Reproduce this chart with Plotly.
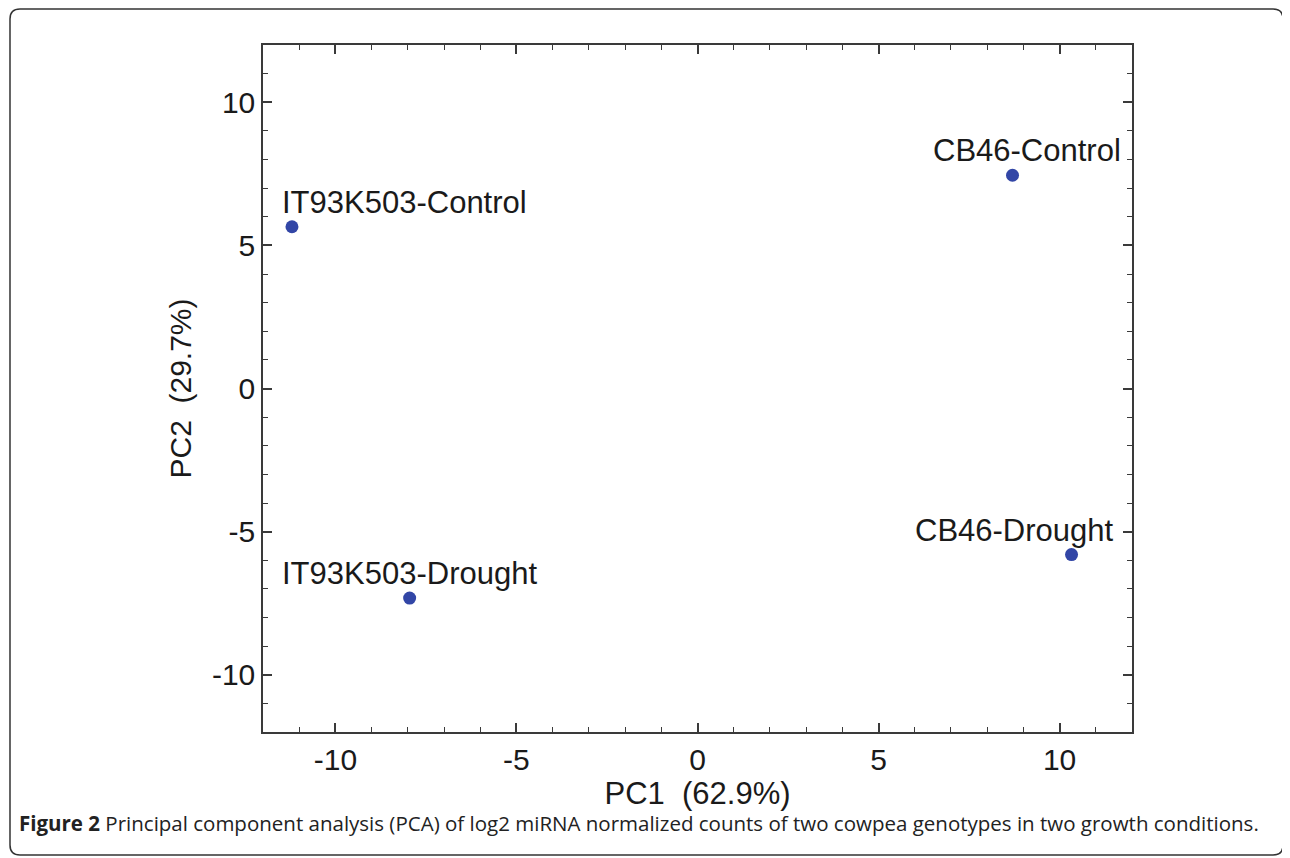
import plotly.graph_objects as go

samples = ["IT93K503-Control", "CB46-Control", "IT93K503-Drought", "CB46-Drought"]
pc1 = [-11.2, 8.7, -7.95, 10.33]
pc2 = [5.65, 7.45, -7.32, -5.8]
label_xshift = [113, 14, 0, -57]

tick_vals = [-10, -5, 0, 5, 10]
tick_text = ["-10", "-5", "0", "5", "10"]

x_title = "PC1\u00a0\u00a0(62.9%)"
y_title = "PC2\u00a0\u00a0(29.7%)"
caption_bold = "Figure 2"
caption_rest = " Principal component analysis (PCA) of log2 miRNA normalized counts of two cowpea genotypes in two growth conditions."

OFF = 8  # page body margin
W, H = 1290, 858
# target plot-area edges in window pixels
L, R, T, B = 263 - OFF, 1132 - OFF, 45 - OFF, 732 - OFF

fig = go.Figure()
fig.add_trace(go.Scatter(
    x=pc1, y=pc2, mode="markers",
    marker=dict(size=13, color="#3246a6"),
    hoverinfo="text", text=samples, showlegend=False,
))

for name, xv, yv, xs in zip(samples, pc1, pc2, label_xshift):
    fig.add_annotation(x=xv, y=yv, text=name, showarrow=False,
                       xanchor="center", yanchor="bottom", xshift=xs, yshift=5,
                       font=dict(family="Liberation Sans, Arial", size=31, color="#1a1a1a"))

axis_common = dict(
    showline=True, linecolor="#3a3a3a", linewidth=1.5, mirror="ticks",
    ticks="inside", ticklen=9, tickwidth=1.5, tickcolor="#3a3a3a",
    tickmode="array", tickvals=tick_vals, ticktext=tick_text,
    showgrid=False, zeroline=False,
    tickfont=dict(family="Liberation Sans, Arial", size=30, color="#1a1a1a"),
    minor=dict(ticks="inside", ticklen=5, tickwidth=1.2, tickcolor="#3a3a3a",
               tickmode="linear", tick0=0, dtick=1, showgrid=False),
)

fig.update_xaxes(range=[-12, 12], title=dict(text=x_title, standoff=4,
                 font=dict(family="Liberation Sans, Arial", size=31, color="#1a1a1a")), **axis_common)
fig.update_yaxes(range=[-12, 12], title=dict(text=y_title, standoff=11,
                 font=dict(family="Liberation Sans, Arial", size=30, color="#1a1a1a")), **axis_common)

def px2paper(px, py):
    # px, py are window pixel coordinates
    return (px - OFF - L) / (R - L), (B - (py - OFF)) / (B - T)

# rounded border around whole figure (window coords)
x0, y0, x1, y1, r = 10, 9, 1283, 855, 10
def P(px, py):
    a, b = px2paper(px, py)
    return f"{a:.5f},{b:.5f}"
path = (f"M {P(x0 + r, y0)} L {P(x1 - r, y0)} Q {P(x1, y0)} {P(x1, y0 + r)} "
        f"L {P(x1, y1 - r)} Q {P(x1, y1)} {P(x1 - r, y1)} "
        f"L {P(x0 + r, y1)} Q {P(x0, y1)} {P(x0, y1 - r)} "
        f"L {P(x0, y0 + r)} Q {P(x0, y0)} {P(x0 + r, y0)} Z")
fig.add_shape(type="path", path=path, xref="paper", yref="paper",
              line=dict(color="#333333", width=1.5))

cx, cy = px2paper(17, 823)
fig.add_annotation(x=cx, y=cy, xref="paper", yref="paper", showarrow=False,
                   xanchor="left", yanchor="middle",
                   text=f"<b>{caption_bold}</b>{caption_rest}",
                   font=dict(family="Open Sans", size=20.5, color="#222222"))

fig.update_layout(
    width=W, height=H,
    margin=dict(l=L, r=W - R, t=T, b=H - B),
    paper_bgcolor="white", plot_bgcolor="white",
)

fig.write_html("out.html")
